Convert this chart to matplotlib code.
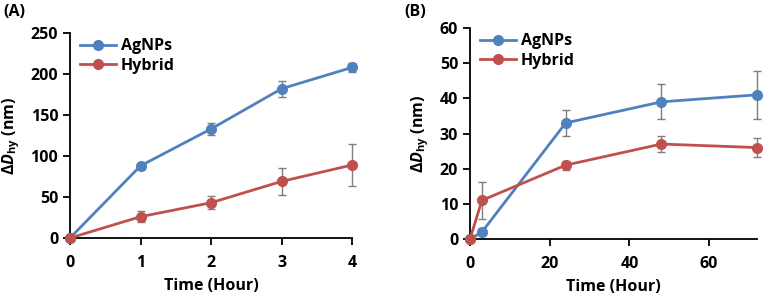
import matplotlib
matplotlib.use("Agg")
import matplotlib.pyplot as plt
from matplotlib.lines import Line2D

plt.rcParams['font.family'] = ['Open Sans', 'DejaVu Sans']
plt.rcParams['font.weight'] = 'bold'
plt.rcParams['mathtext.fontset'] = 'custom'
plt.rcParams['mathtext.rm'] = 'Open Sans:bold'
plt.rcParams['mathtext.it'] = 'Open Sans:bold:italic'
plt.rcParams['mathtext.bf'] = 'Open Sans:bold'

# Panel A data
time_a = [0, 1, 2, 3, 4]
agnps_a = [0, 88, 133, 182, 208]
agnps_a_err = [0, 4, 7, 10, 6]
hybrid_a = [0, 26, 43, 69, 89]
hybrid_a_err = [0, 7, 8, 16, 26]

# Panel B data
time_b = [0, 3, 24, 48, 72]
agnps_b = [0, 2, 33, 39, 41]
agnps_b_err = [0, 1, 3.7, 5, 6.8]
hybrid_b = [0, 11, 21, 27, 26]
hybrid_b_err = [0, 5.3, 1.3, 2.4, 2.7]

BLUE = '#4F81BD'
RED = '#C0504D'
ERR = '#7F7F7F'
FS = 11.5

fig = plt.figure(figsize=(7.63, 2.97), dpi=100)
axA = fig.add_axes([70/763, 1-238/297, 282/763, 205/297])
axB = fig.add_axes([470/763, 1-239/297, 287/763, 211/297])

def draw(ax, t, a, ae, h, he, xlim, ylim, xticks, yticks):
    handles = []
    for y, e, c, lab in [(a, ae, BLUE, 'AgNPs'), (h, he, RED, 'Hybrid')]:
        ax.errorbar(t, y, yerr=e, color=c, ecolor=ERR, elinewidth=1, capsize=3,
                    capthick=1, marker='o', markersize=7, linewidth=2,
                    clip_on=False, zorder=3)
        handles.append(Line2D([], [], color=c, marker='o', markersize=7, linewidth=2, label=lab))
    ax.set_xlim(*xlim)
    ax.set_ylim(*ylim)
    ax.set_xticks(xticks)
    ax.set_yticks(yticks)
    for s in ['top', 'right']:
        ax.spines[s].set_visible(False)
    for s in ['left', 'bottom']:
        ax.spines[s].set_linewidth(1.3)
    ax.tick_params(axis='both', direction='out', length=5, width=1.3, labelsize=FS)
    ax.tick_params(axis='x', pad=7)
    for lbl in ax.get_xticklabels() + ax.get_yticklabels():
        lbl.set_fontweight('bold')
    ax.set_xlabel('Time (Hour)', fontsize=FS, fontweight='bold', labelpad=5)
    ax.set_ylabel(r'$\Delta\mathit{D}_{\mathrm{hy}}$ (nm)', fontsize=FS, fontweight='bold', labelpad=6)
    leg = ax.legend(handles=handles, loc='upper left', frameon=False, fontsize=FS,
                    handlelength=2.3, borderaxespad=0.2, handletextpad=0.3, labelspacing=0.2,
                    bbox_to_anchor=(0.0, 1.02))
    for tx in leg.get_texts():
        tx.set_fontweight('bold')

draw(axA, time_a, agnps_a, agnps_a_err, hybrid_a, hybrid_a_err,
     (0, 4), (0, 250), [0, 1, 2, 3, 4], [0, 50, 100, 150, 200, 250])
draw(axB, time_b, agnps_b, agnps_b_err, hybrid_b, hybrid_b_err,
     (0, 72), (0, 60), [0, 20, 40, 60], [0, 10, 20, 30, 40, 50, 60])

fig.text(3/763, 1-12/297, '(A)', fontsize=FS, fontweight='bold', va='center', ha='left')
fig.text(404/763, 1-12/297, '(B)', fontsize=FS, fontweight='bold', va='center', ha='left')

fig.savefig('out.png', dpi=100)
